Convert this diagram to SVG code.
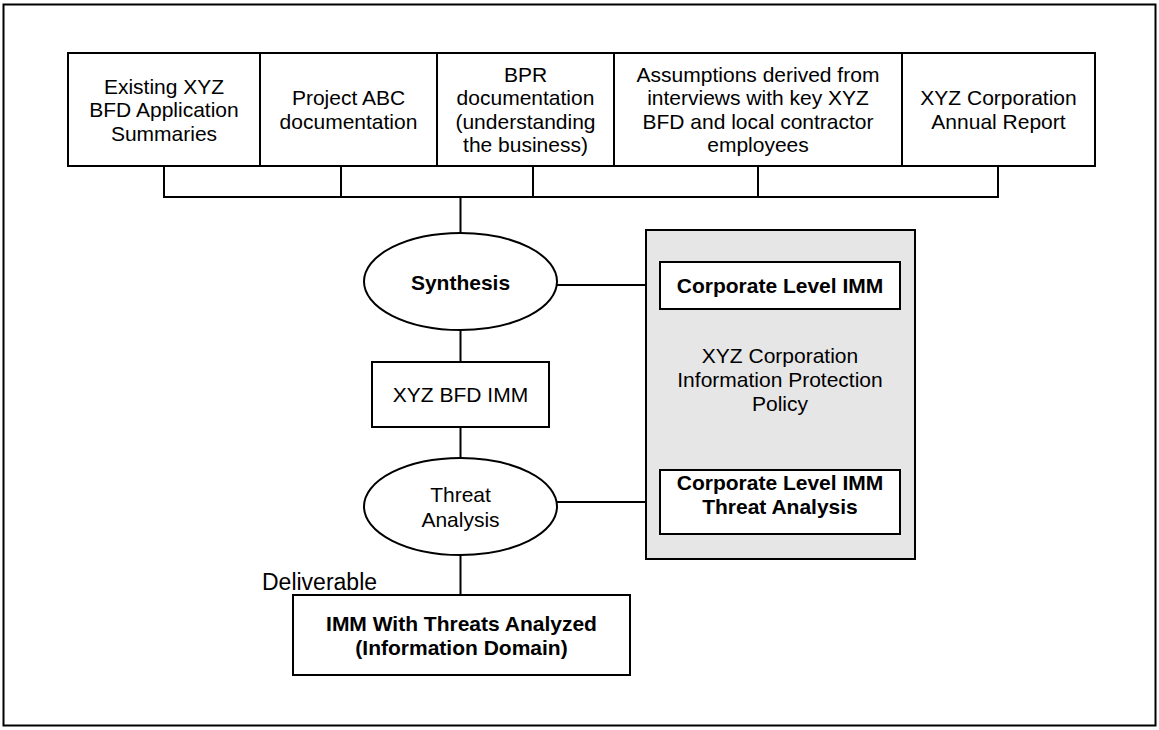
<svg xmlns="http://www.w3.org/2000/svg" width="1159" height="730" viewBox="0 0 1159 730">
<style>
.box{fill:#fff;stroke:#000;stroke-width:2}
.gray{fill:#e6e6e6;stroke:#000;stroke-width:2}
.ln{fill:none;stroke:#000;stroke-width:2}
text{font-family:"Liberation Sans",Arial,sans-serif;font-size:21px;fill:#000;text-anchor:middle}
.b{font-weight:bold}
</style>
<rect x="3.5" y="4.5" width="1152" height="721" fill="#fff" stroke="#000" stroke-width="2"/>
<g id="connectors">
<path class="ln" d="M164,166V197H998V166M341,166V197M533,166V197M758,166V197M460.5,197V233"/>
<path class="ln" d="M557,285H660M460.5,330V362M460.5,427V458M557,502H660M460.5,555V595"/>
</g>
<g id="policy">
<rect class="gray" x="646" y="230" width="269" height="329"/>
<text x="780" y="363">XYZ Corporation</text>
<text x="780" y="387">Information Protection</text>
<text x="780" y="411">Policy</text>
</g>
<g id="src1">
<rect class="box" x="68" y="53" width="192" height="113"/>
<text x="164" y="93.5">Existing XYZ</text>
<text x="164" y="117">BFD Application</text>
<text x="164" y="140.5">Summaries</text>
</g>
<g id="src2">
<rect class="box" x="260" y="53" width="177" height="113"/>
<text x="348.5" y="105.25">Project ABC</text>
<text x="348.5" y="128.75">documentation</text>
</g>
<g id="src3">
<rect class="box" x="437" y="53" width="177" height="113"/>
<text x="525.5" y="81.75">BPR</text>
<text x="525.5" y="105.25">documentation</text>
<text x="525.5" y="128.75">(understanding</text>
<text x="525.5" y="152.25">the business)</text>
</g>
<g id="src4">
<rect class="box" x="614" y="53" width="288" height="113"/>
<text x="758" y="81.75">Assumptions derived from</text>
<text x="758" y="105.25">interviews with key XYZ</text>
<text x="758" y="128.75">BFD and local contractor</text>
<text x="758" y="152.25">employees</text>
</g>
<g id="src5">
<rect class="box" x="902" y="53" width="193" height="113"/>
<text x="998.5" y="105.25">XYZ Corporation</text>
<text x="998.5" y="128.75">Annual Report</text>
</g>
<g id="synthesis">
<ellipse class="box" cx="460.5" cy="281.5" rx="96.5" ry="48.5"/>
<text class="b" x="460.5" y="289.5">Synthesis</text>
</g>
<g id="corp-imm">
<rect class="box" x="660" y="262" width="240" height="47"/>
<text class="b" x="780" y="293">Corporate Level IMM</text>
</g>
<g id="bfd-imm">
<rect class="box" x="372" y="362" width="177" height="65"/>
<text x="460.5" y="402">XYZ BFD IMM</text>
</g>
<g id="threat">
<ellipse class="box" cx="460.5" cy="506.5" rx="96.5" ry="48.5"/>
<text x="460.5" y="501.5">Threat</text>
<text x="460.5" y="526.5">Analysis</text>
</g>
<g id="corp-threat">
<rect class="box" x="660" y="470" width="240" height="64"/>
<text class="b" x="780" y="490">Corporate Level IMM</text>
<text class="b" x="780" y="514">Threat Analysis</text>
</g>
<g id="deliverable">
<text x="262" y="590" style="text-anchor:start;font-size:23px">Deliverable</text>
<rect class="box" x="293" y="595" width="337" height="80"/>
<text class="b" x="461.5" y="630.5">IMM With Threats Analyzed</text>
<text class="b" x="461.5" y="654.5">(Information Domain)</text>
</g>
</svg>
